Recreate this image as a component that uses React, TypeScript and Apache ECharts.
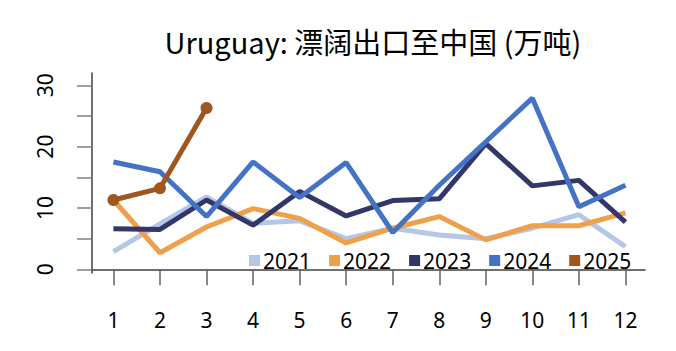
import React, { useEffect, useRef } from "react";
import * as echarts from "echarts";

const months = [1, 2, 3, 4, 5, 6, 7, 8, 9, 10, 11, 12];
const yTickValues = [0, 5, 10, 15, 20, 25, 30];
const yLabelValues = [0, 10, 20, 30];
const seriesNames = ["2021", "2022", "2023", "2024", "2025"];
const v2021 = [2.9, 7.4, 11.8, 7.5, 7.9, 5.0, 6.7, 5.6, 5.0, 6.7, 8.9, 3.7];
const v2022 = [11.3, 2.7, 6.9, 9.9, 8.3, 4.3, 6.7, 8.6, 4.8, 7.1, 7.1, 9.2];
const v2023 = [6.6, 6.5, 11.3, 7.2, 12.7, 8.7, 11.2, 11.5, 20.5, 13.6, 14.5, 7.7];
const v2024 = [17.5, 15.9, 8.6, 17.5, 11.7, 17.4, 6.0, 13.7, 20.8, 27.9, 10.2, 13.7];
const v2025 = [11.3, 13.2, 26.3];
const colors = ["#B4C7E7", "#EFA04B", "#323668", "#4472C4", "#A0561F"];

export default function App() {
  const ref = useRef<HTMLDivElement>(null);
  useEffect(() => {
    if (!ref.current) return;
    const chart = echarts.init(ref.current, null, { renderer: "svg" });
    const allValues = [v2021, v2022, v2023, v2024, v2025];
    chart.setOption({
      animation: false,
      title: {
        text: "Uruguay: 漂阔出口至中国 (万吨)",
        left: 368,
        top: 21,
        textAlign: "center",
        textStyle: {
          fontFamily: "Noto Sans CJK SC",
          fontSize: 29,
          fontWeight: "normal",
          color: "#000",
        },
      },
      legend: {
        left: 244,
        top: 245,
        itemWidth: 11,
        itemHeight: 11,
        itemGap: 18,
        icon: "rect",
        data: seriesNames,
        textStyle: { fontFamily: "Noto Sans", fontSize: 21, color: "#000", padding: [0, 0, 0, -2] },
      },
      grid: { left: 92, right: 31, top: 73, bottom: 78 },
      xAxis: {
        type: "value",
        min: 0.54,
        max: 12.42,
        splitLine: { show: false },
        axisLine: { show: true, lineStyle: { color: "#404040", width: 1.5 } },
        axisTick: {
          show: true,
          length: 16,
          customValues: months,
          lineStyle: { color: "#606060", width: 1.5 },
        },
        axisLabel: {
          customValues: months,
          margin: 36,
          fontFamily: "Noto Sans",
          fontSize: 21,
          color: "#000",
        },
      },
      yAxis: {
        type: "value",
        min: -0.6,
        max: 32,
        splitLine: { show: false },
        axisLine: { show: true, lineStyle: { color: "#404040", width: 1.5 } },
        axisTick: {
          show: true,
          length: 15,
          customValues: yTickValues,
          lineStyle: { color: "#808080", width: 1.5 },
        },
        axisLabel: {
          customValues: yLabelValues,
          rotate: 90,
          margin: 37,
          fontFamily: "Noto Sans",
          fontSize: 21,
          color: "#000",
        },
      },
      series: seriesNames.map((name, i) => ({
        name,
        type: "line",
        data: allValues[i].map((v, j) => [months[j], v]),
        lineStyle: { width: 5, color: colors[i] },
        itemStyle: { color: colors[i] },
        symbol: i === 4 ? "circle" : "none",
        symbolSize: 12,
        showSymbol: i === 4,
        z: 2 + i,
      })),
    });
    return () => chart.dispose();
  }, []);
  return (
    <div
      ref={ref}
      style={{ position: "fixed", left: 0, top: 0, width: 676, height: 351, background: "#fff" }}
    />
  );
}
